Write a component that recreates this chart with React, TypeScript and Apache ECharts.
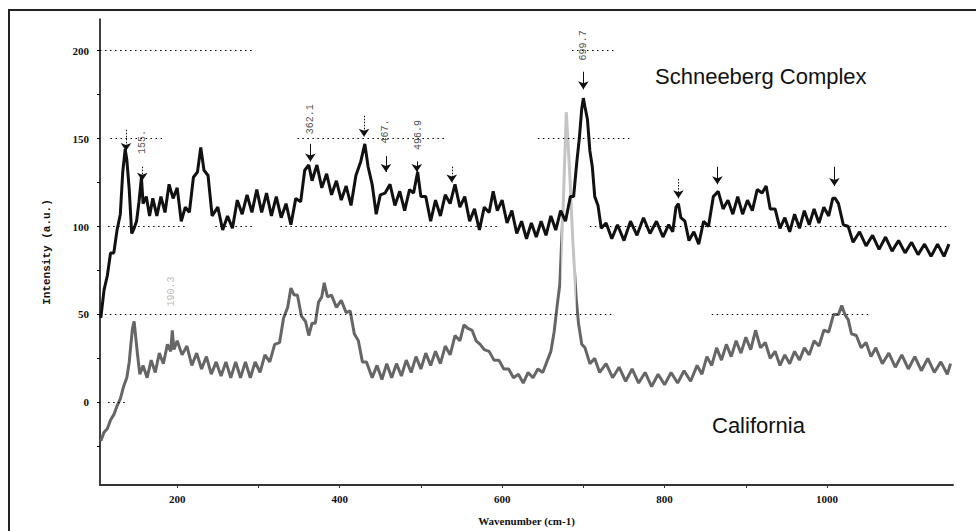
import { useEffect, useRef } from "react";
import * as echarts from "echarts";

// Raman spectrum, Schneeberg Complex (upper, black): [wavenumber cm-1, intensity a.u.]
const schneeberg: [number, number][] = [
  [106,48],[110,64],[114,72],[118,85],[122,85],[126,98],[130,107],[133,131],[136,144],[138,138],[141,121],[144,96],[147,99],[150,103],[153,114],[156,128],[158,113],[162,117],[166,106],[170,116],[175,106],[180,117],[185,108],[190,124],[195,116],[200,122],[205,103],[210,111],[215,108],[220,128],[225,131],[229,145],[233,132],[238,129],[243,106],[250,111],[256,98],[262,106],[268,99],[274,115],[280,107],[286,118],[292,108],[298,121],[304,108],[310,119],[316,106],[322,117],[328,105],[334,113],[340,101],[346,116],[352,114],[357,132],[362,135],[366,126],[372,135],[378,122],[384,130],[390,118],[396,126],[402,115],[408,123],[414,112],[420,129],[426,137],[431,147],[435,134],[440,124],[445,107],[450,118],[456,119],[462,124],[468,112],[474,120],[480,109],[486,121],[491,119],[496,131],[500,117],[506,117],[512,103],[518,115],[524,106],[530,118],[536,113],[542,124],[548,111],[554,117],[560,103],[566,110],[572,98],[578,111],[584,108],[589,120],[594,109],[600,115],[606,102],[612,109],[618,96],[624,103],[630,93],[636,102],[642,94],[648,103],[654,95],[660,106],[666,98],[672,109],[678,103],[684,117],[688,117],[692,137],[695,150],[698,167],[700,173],[702,168],[705,161],[708,143],[711,134],[714,117],[718,112],[722,99],[728,102],[735,93],[742,101],[750,92],[758,103],[766,95],[774,105],[782,96],[790,103],[798,94],[805,101],[810,97],[814,111],[817,113],[820,105],[825,103],[830,92],[836,97],[842,90],[848,103],[854,100],[860,117],[866,120],[872,110],[878,115],[884,107],[890,117],[896,107],[902,115],[908,109],[914,121],[920,119],[925,123],[930,110],[936,110],[942,99],[948,105],[954,97],[960,107],[966,99],[972,109],[978,101],[984,110],[990,102],[996,111],[1002,106],[1007,116],[1010,116],[1014,113],[1020,101],[1026,100],[1032,91],[1040,97],[1048,89],[1056,95],[1064,87],[1072,94],[1080,86],[1088,92],[1096,85],[1104,91],[1112,84],[1120,90],[1128,83],[1136,90],[1144,83],[1150,90]
];

// Raman spectrum, California (lower, grey)
const california: [number, number][] = [
  [106,-22],[110,-17],[114,-15],[118,-10],[122,-7],[126,-2],[130,2],[134,9],[138,14],[141,23],[143,33],[145,42],[147,46],[149,37],[151,28],[154,16],[158,21],[163,14],[168,24],[173,17],[178,28],[183,22],[188,33],[192,29],[194,41],[196,30],[200,35],[206,27],[212,32],[218,21],[224,28],[230,19],[236,26],[242,16],[248,23],[254,15],[260,23],[266,14],[272,23],[278,14],[284,23],[290,14],[296,23],[302,17],[308,27],[314,23],[320,33],[326,34],[331,48],[336,54],[340,65],[344,61],[348,61],[353,49],[358,46],[362,38],[366,45],[370,45],[374,57],[378,60],[381,68],[385,60],[390,61],[396,54],[402,58],[408,51],[413,52],[418,39],[423,35],[428,23],[433,23],[440,14],[446,21],[452,13],[458,22],[464,14],[470,22],[476,15],[482,24],[488,17],[494,26],[500,19],[506,28],[512,21],[518,29],[524,22],[530,32],[536,27],[542,38],[548,35],[553,44],[558,42],[563,41],[568,35],[573,33],[578,30],[584,29],[590,24],[596,24],[602,19],[608,19],[614,14],[620,16],[626,11],[632,17],[638,14],[644,19],[650,17],[655,23],[660,29],[664,40],[668,56],[671,67],[675,110],[679,165],[683,132],[687,92],[691,60],[694,45],[698,33],[702,31],[708,22],[714,25],[720,17],[728,22],[736,14],[744,20],[752,12],[760,19],[768,11],[776,17],[784,9],[792,16],[800,10],[808,17],[816,11],[824,18],[832,12],[840,21],[846,16],[852,26],[858,21],[864,31],[870,24],[876,33],[882,26],[888,35],[894,28],[900,37],[906,30],[912,41],[918,31],[924,34],[930,25],[936,29],[942,21],[948,27],[954,22],[960,29],[966,24],[972,31],[978,27],[984,35],[990,32],[996,41],[1002,40],[1008,50],[1014,50],[1018,55],[1022,50],[1026,47],[1030,39],[1036,38],[1042,31],[1048,34],[1054,26],[1060,31],[1068,22],[1076,28],[1084,20],[1092,27],[1100,19],[1108,26],[1116,18],[1124,25],[1132,17],[1140,23],[1148,16],[1152,22]
];

const xTickLabels = [200, 400, 600, 800, 1000];
const xTicks = [200, 300, 400, 500, 600, 700, 800, 900, 1000];
const yTickLabels = [0, 50, 100, 150, 200];
const yTicks = [-25, 0, 25, 50, 75, 100, 125, 150, 175, 200];

// dotted horizontal guide segments: [intensity, from wavenumber, to wavenumber]
const guides: [number, number, number][] = [
  [200, 105, 296], [200, 686, 741],
  [150, 118, 185], [150, 348, 530], [150, 644, 758],
  [100, 115, 210], [100, 247, 296], [100, 327, 598], [100, 708, 1149],
  [50, 111, 735], [50, 858, 1055],
  [0, 115, 136],
];

// peak arrows: [wavenumber, tail intensity, tip intensity, dotted]
const arrows: [number, number, number, boolean][] = [
  [137, 155, 143, true], [157, 134, 126, true], [364, 147, 137, false],
  [430, 163, 151, true], [457, 140, 131, false], [495, 137, 131, false],
  [538, 134, 125, true], [700, 188, 178, false], [817, 127, 116, true],
  [865, 134, 124, false], [1009, 134, 123, false],
];

// peak labels: [wavenumber, intensity, text, colour]
const peakLabels: [number, number, string, string][] = [
  [157, 148, "155.", "#222"],
  [364, 161, "362.1", "#222"],
  [456, 154, "467.", "#222"],
  [497, 152, "496.9", "#222"],
  [700, 203, "699.7", "#222"],
  [193, 63, "190.3", "#aaa"],
];

// wavenumber range in which the steep California band is drawn faint
const faintRange: [number, number] = [672, 691];

export default function App() {
  const ref = useRef<HTMLDivElement>(null);
  useEffect(() => {
    if (!ref.current) return;
    const chart = echarts.init(ref.current, null, { renderer: "svg" });
    const tickFont = {
      fontFamily: "Liberation Serif",
      fontSize: 11,
      fontWeight: "bold" as const,
      color: "#111",
    };
    chart.setOption({
      animation: false,
      backgroundColor: "#fff",
      grid: { left: 100, top: 19, width: 853, height: 469, containLabel: false },
      visualMap: {
        show: false,
        type: "piecewise",
        seriesIndex: 1,
        dimension: 0,
        pieces: [
          { lt: faintRange[0], color: "#666666" },
          { gte: faintRange[0], lte: faintRange[1], color: "#c4c4c4" },
          { gt: faintRange[1], color: "#666666" },
        ],
      },
      xAxis: {
        type: "value",
        min: 105,
        max: 1155,
        name: "Wavenumber (cm-1)",
        nameLocation: "middle",
        nameGap: 30,
        nameTextStyle: { fontFamily: "Liberation Serif", fontSize: 11, fontWeight: "bold", color: "#111" },
        splitLine: { show: false },
        axisLine: { onZero: false, lineStyle: { color: "#333", width: 2 } },
        axisTick: { customValues: xTicks, length: 3, lineStyle: { color: "#333", width: 1 } },
        axisLabel: { customValues: xTickLabels, margin: 8, formatter: (v: number) => String(v), ...tickFont },
      },
      yAxis: {
        type: "value",
        min: -47,
        max: 218,
        name: "Intensity (a.u.)",
        nameLocation: "middle",
        nameGap: 48,
        nameTextStyle: { fontFamily: "Liberation Mono", fontSize: 11, fontWeight: "bold", color: "#111" },
        splitLine: { show: false },
        axisLine: { onZero: false, lineStyle: { color: "#000", width: 1.5 } },
        axisTick: { customValues: yTicks, length: 3, lineStyle: { color: "#000", width: 1 } },
        axisLabel: { customValues: yTickLabels, margin: 11, formatter: (v: number) => String(v), ...tickFont },
      },
      series: [
        {
          name: "guides",
          type: "line",
          data: [],
          z: 1,
          markLine: {
            silent: true,
            symbol: ["none", "none"],
            label: { show: false },
            lineStyle: { color: "#000", width: 1, type: [1.5, 3.5] },
            data: guides.map(([y, x1, x2]) => [{ coord: [x1, y] }, { coord: [x2, y] }]),
          },
        },
        {
          name: "California",
          type: "line",
          data: california,
          showSymbol: false,
          z: 2,
          lineStyle: { width: 3 },
        },
        {
          name: "Schneeberg Complex",
          type: "line",
          data: schneeberg,
          showSymbol: false,
          z: 3,
          lineStyle: { color: "#111", width: 3 },
        },
        {
          name: "arrows",
          type: "line",
          data: [],
          z: 4,
          markLine: {
            silent: true,
            symbol: ["none", "arrow"],
            symbolSize: 8,
            label: { show: false },
            itemStyle: { color: "#111" },
            lineStyle: { color: "#111", width: 1 },
            data: arrows.map(([x, y1, y2, dotted]) => [
              { coord: [x, y1], lineStyle: { color: "#111", width: 1, type: dotted ? [1.5, 1.5] : "solid" } },
              { coord: [x, y2] },
            ]),
          },
        },
        {
          name: "labels",
          type: "scatter",
          symbolSize: 0.1,
          itemStyle: { color: "transparent" },
          z: 5,
          data: peakLabels.map(([x, y, t, c]) => ({
            value: [x, y],
            label: { formatter: t, color: c },
          })),
          label: {
            show: true,
            position: "inside",
            rotate: 90,
            align: "center",
            verticalAlign: "middle",
            fontFamily: "Liberation Mono",
            fontSize: 10,
          },
        },
      ],
      graphic: [
        {
          type: "rect",
          shape: { x: 9, y: 10, width: 1000, height: 600 },
          style: { fill: "none", stroke: "#222", lineWidth: 2 },
          silent: true,
        },
        {
          type: "text",
          x: 655,
          y: 76.5,
          style: {
            text: "Schneeberg Complex",
            fontFamily: "Liberation Sans",
            fontSize: 22,
            fill: "#111",
            textAlign: "left",
            textVerticalAlign: "middle",
          },
        },
        {
          type: "text",
          x: 712,
          y: 425.5,
          style: {
            text: "California",
            fontFamily: "Liberation Sans",
            fontSize: 22,
            fill: "#111",
            textAlign: "left",
            textVerticalAlign: "middle",
          },
        },
      ],
    });
    return () => chart.dispose();
  }, []);
  return <div ref={ref} style={{ position: "fixed", left: 0, top: 0, width: 976, height: 531 }} />;
}
